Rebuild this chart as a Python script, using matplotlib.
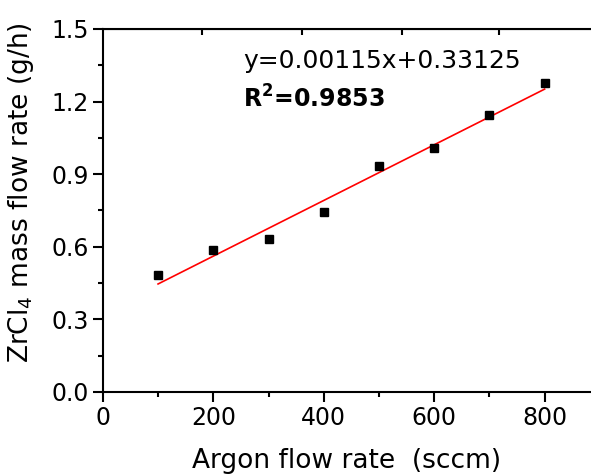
import numpy as np
import matplotlib.pyplot as plt
from matplotlib.ticker import MultipleLocator

# Argon flow rate (sccm) vs ZrCl4 mass flow rate (g/h)
argon_flow = [100, 200, 300, 400, 500, 600, 700, 800]
zrcl4_rate = [0.483, 0.587, 0.634, 0.745, 0.935, 1.008, 1.145, 1.276]

# linear fit reported on the chart
slope = 0.00115
intercept = 0.33125
r_squared = 0.9853

plt.rcParams['font.family'] = 'DejaVu Sans'
plt.rcParams['mathtext.default'] = 'regular'

fig = plt.figure(figsize=(5.91, 4.74), dpi=100)
ax = fig.add_axes([0.174, 0.173, 0.826, 0.766])

fit_x = np.array([argon_flow[0], argon_flow[-1]])
ax.plot(fit_x, slope * fit_x + intercept, color='red', lw=1.2)
ax.plot(argon_flow, zrcl4_rate, 's', color='black', ms=5.5)

ax.set_xlim(0, 884)
ax.set_ylim(0, 1.5)
ax.xaxis.set_major_locator(MultipleLocator(200))
ax.xaxis.set_minor_locator(MultipleLocator(100))
ax.yaxis.set_major_locator(MultipleLocator(0.3))
ax.yaxis.set_minor_locator(MultipleLocator(0.15))
ax.yaxis.set_major_formatter(plt.FormatStrFormatter('%.1f'))

ax.spines['right'].set_visible(False)
for s in ['left', 'bottom', 'top']:
    ax.spines[s].set_linewidth(1.5)

ax.tick_params(which='major', direction='out', length=7, width=1.5,
               labelsize=17, pad=3)
ax.tick_params(which='minor', direction='out', length=3.5, width=1.5)

# short inward ticks on the top frame
top = ax.secondary_xaxis('top')
top.set_xticks([179, 360, 541, 717])
top.tick_params(direction='in', length=4, width=1.5, labeltop=False)
top.xaxis.set_minor_locator(plt.NullLocator())

ax.set_xlabel('Argon flow rate  (sccm)', fontsize=19, labelpad=13)
ax.set_ylabel('ZrCl$_4$ mass flow rate (g/h)', fontsize=19)
ax.yaxis.set_label_coords(-0.137, 0.55)

ax.text(254, 1.339, 'y=%.5fx+%.5f' % (slope, intercept),
        fontsize=18, va='baseline')
ax.text(254, 1.174, r'R$^{\mathregular{2}}$=%.4f' % r_squared, fontsize=17,
        fontweight='bold', va='baseline')

fig.savefig('out.png', dpi=100)
